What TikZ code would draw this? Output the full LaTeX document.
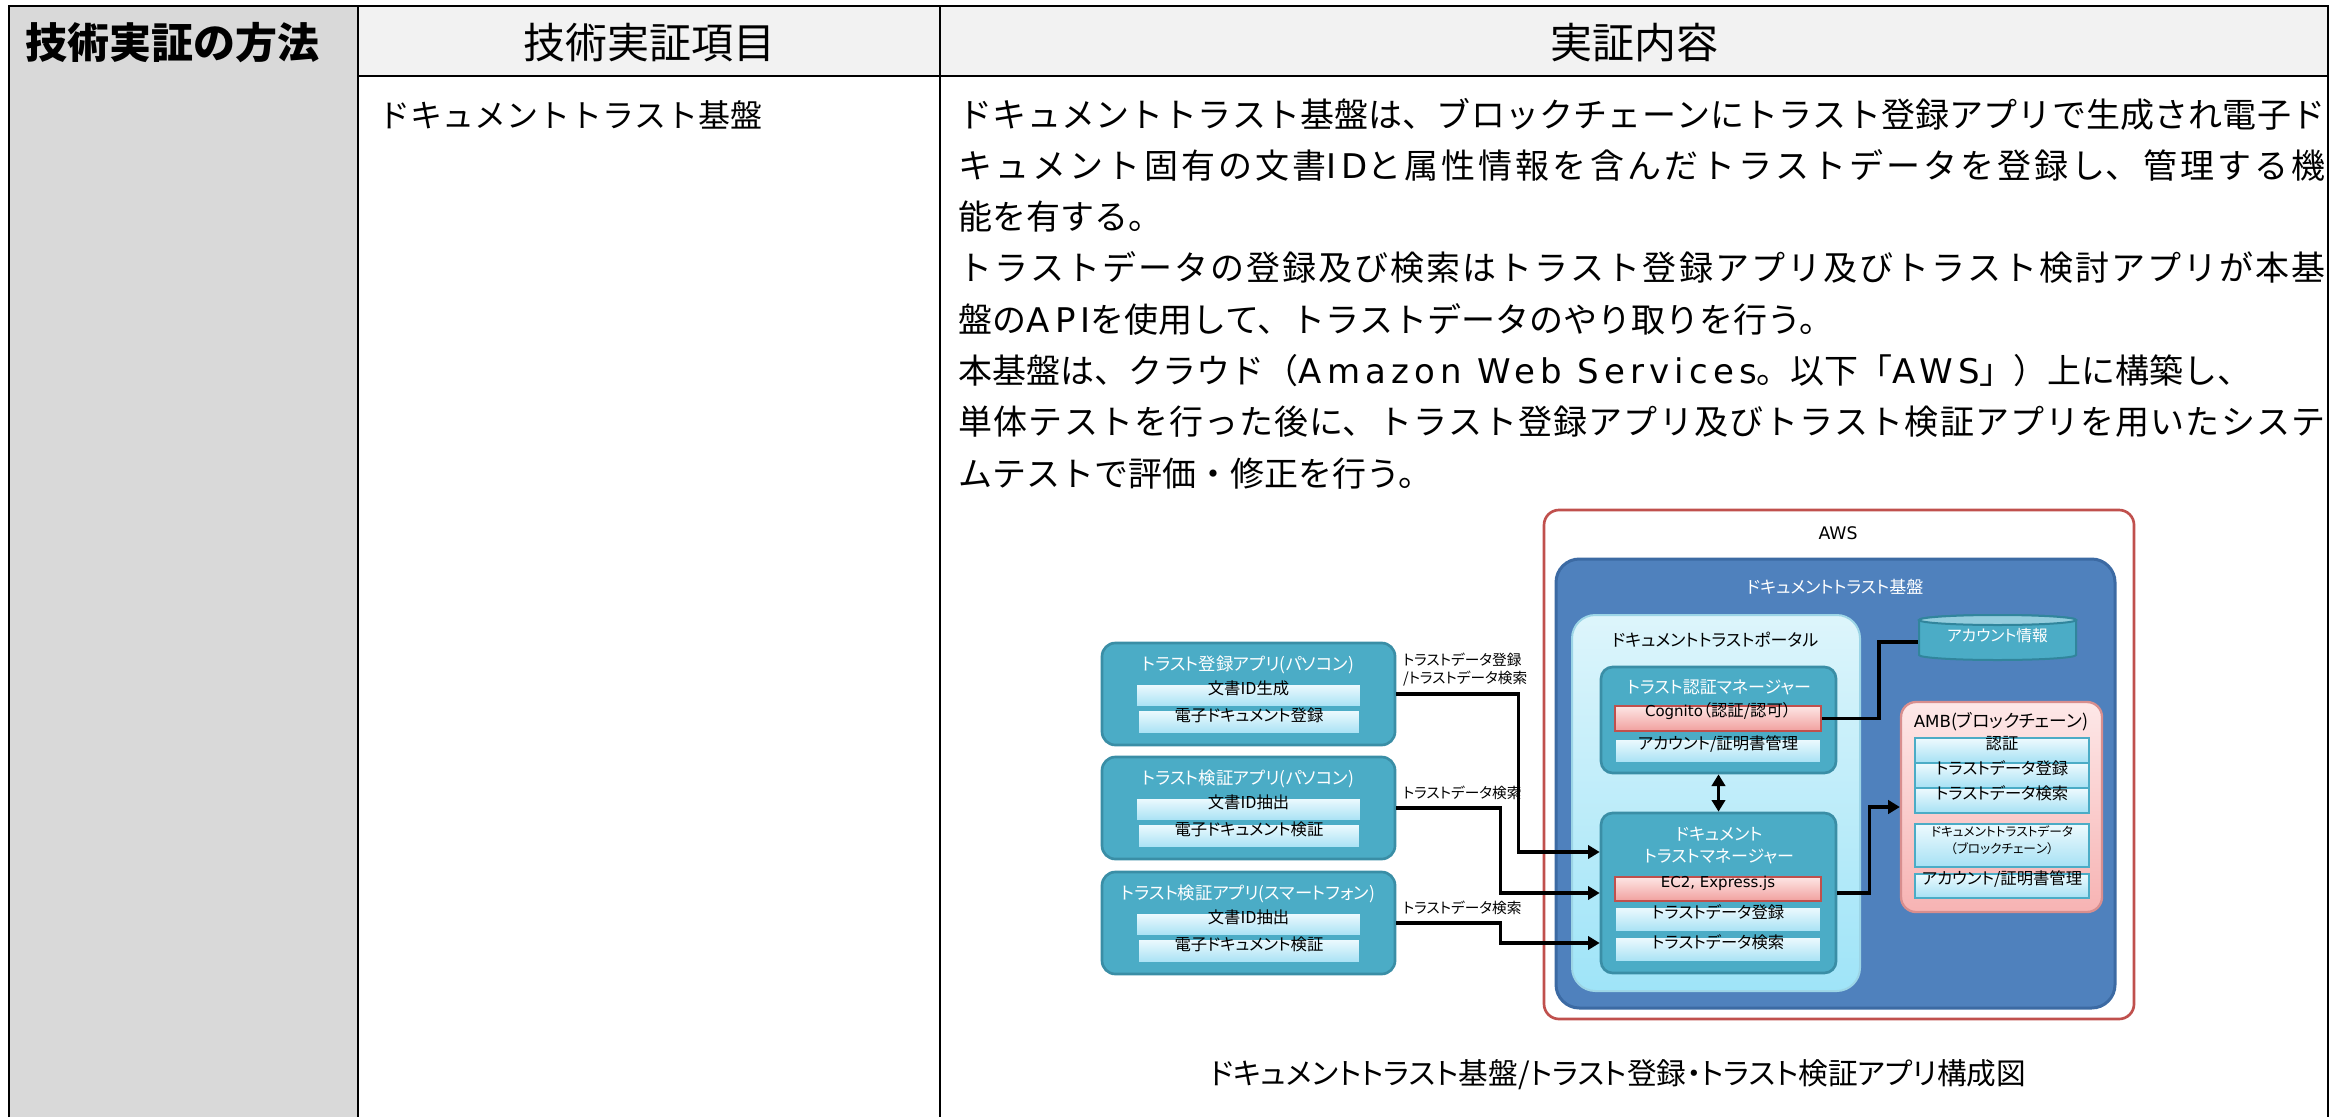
\documentclass[tikz,border=0pt]{standalone}
\usepackage{fontspec}
\setmainfont{Noto Sans CJK JP}
\newfontfamily\uifont[RawFeature=+palt]{Noto Sans CJK JP}
\newfontfamily\latinwide[LetterSpace=15]{DejaVu Sans}
\newfontfamily\latinui{DejaVu Sans}
\usetikzlibrary{arrows.meta,fit}
\definecolor{hdgray}{HTML}{F2F2F2}
\definecolor{colgray}{HTML}{D9D9D9}
\definecolor{awsred}{HTML}{C0504D}
\definecolor{awsblue}{HTML}{4F81BD}
\definecolor{awsblueline}{HTML}{3C6AA3}
\definecolor{portaltop}{HTML}{DDF5FB}
\definecolor{portalbot}{HTML}{9FE4F8}
\definecolor{portalline}{HTML}{9CD5E6}
\definecolor{mgrteal}{HTML}{4BACC6}
\definecolor{mgrline}{HTML}{3A8EA6}
\definecolor{subtop}{HTML}{EEFAFE}
\definecolor{subbot}{HTML}{A6E1F4}
\definecolor{redtop}{HTML}{FDE6E5}
\definecolor{redbot}{HTML}{F1A09E}
\definecolor{ambtop}{HTML}{FDE8E8}
\definecolor{ambbot}{HTML}{F7B3B3}
\definecolor{ambline}{HTML}{D88E8E}
\definecolor{dbtop}{HTML}{93CDDD}
\definecolor{dbline}{HTML}{31859C}
\begin{document}
\begin{tikzpicture}[x=.3pt,y=-.3pt,every node/.style={inner sep=0pt},
	bodyline/.style={anchor=base west,font=\fontsize{10.2}{12}\selectfont},
	boxtitle/.style={text=white,align=center,font=\uifont\fontsize{5.1}{6.6}\selectfont},
	mgrbox/.style={fill=mgrteal,draw=mgrline,line width=.8pt,rounded corners=3.5pt},
	subbox/.style={top color=subtop,bottom color=subbot,draw=mgrteal,line width=.5pt,font=\uifont\fontsize{4.9}{5.5}\selectfont},
	redbox/.style={top color=redtop,bottom color=redbot,draw=awsred,line width=.6pt,font=\uifont\fontsize{4.9}{5.5}\selectfont},
	flowlabel/.style={pos=0,anchor=south west,xshift=1.5pt,yshift=2pt,align=left,font=\uifont\fontsize{4.4}{5.4}\selectfont},
	conn/.style={line width=1pt,-{Triangle[length=3.5pt,width=4pt]}}]
	\useasboundingbox (0,0) rectangle (2341,1117);
	\fill[colgray] (9,6) rectangle (358,1117);
	\fill[hdgray] (358,6) rectangle (2328,76);
	\draw[line width=.7pt] (9,1117) -- (9,6) -- (2328,6) -- (2328,1117) (358,6) -- (358,1117) (940,6) -- (940,1117) (358,76) -- (2328,76);
	\node[anchor=west,font=\fontsize{12.6}{14}\selectfont\bfseries] (method) at (25,43) {技術実証の方法};
	\node[font=\fontsize{12.6}{14}\selectfont] (itemhd) at (649,43) {技術実証項目};
	\node[font=\fontsize{12.6}{14}\selectfont] (contenthd) at (1634,43) {実証内容};
	\node[bodyline,font=\fontsize{9.6}{12}\selectfont] (item) at (378,127) {ドキュメントトラスト基盤};
	\foreach \j/\t [count=\i] in {1/ドキュメントトラスト基盤は、ブロックチェーンにトラスト登録アプリで生成され電子ド,
		1/キュメント固有の文書{\latinwide ID}と属性情報を含んだトラストデータを登録し、管理する機,
		0/能を有する。,
		1/トラストデータの登録及び検索はトラスト登録アプリ及びトラスト検討アプリが本基,
		0/盤の{\latinwide API}を使用して、トラストデータのやり取りを行う。,
		0/本基盤は、クラウド（{\latinwide Amazon Web Services}。以下「{\latinwide AWS}」）上に構築し、,
		1/単体テストを行った後に、トラスト登録アプリ及びトラスト検証アプリを用いたシステ,
		0/ムテストで評価・修正を行う。}
		\node[bodyline] (line\i) at (958,{127+51.3*(\i-1)}) {\ifnum\j=1 \parbox[b]{410pt}{\XeTeXlinebreaklocale "ja"\XeTeXlinebreakskip=0pt plus 4pt\parfillskip=0pt \t}\else\t\fi};
	\node[fit={(1544,510)(2134,1019)},fill=white,draw=awsred,line width=.8pt,rounded corners=4.5pt] (aws) {};
	\node[font=\latinui\fontsize{5.2}{6}\selectfont] (awst) at (1838,533) {AWS};
	\node[fit={(1556,559)(2115,1008)},fill=awsblue,draw=awsblueline,line width=.9pt,rounded corners=7pt] (base) {};
	\node[boxtitle] (baset) at (1835,587) {ドキュメントトラスト基盤};
	\node[fit={(1572,615)(1860,991)},top color=portaltop,bottom color=portalbot,draw=portalline,line width=.6pt,rounded corners=7pt] (portal) {};
	\node[boxtitle,text=black] (portalt) at (1715,640) {ドキュメントトラストポータル};
	\node[mgrbox,fit={(1601,667)(1836,773)}] (authmgr) {};
	\node[boxtitle] (authmgrt) at (1719,687) {トラスト認証マネージャー};
	\node[redbox,fit={(1615,706)(1821,731)}] (cognito) {{\latinui\fontsize{4.5}{5}\selectfont Cognito}（認証/認可）};
	\node[subbox,fit={(1615,739)(1821,763)}] (authcert) {アカウント/証明書管理};
	\node[mgrbox,fit={(1601,813)(1836,973)}] (trustmgr) {};
	\node[boxtitle] (trustmgrt) at (1719,846) {ドキュメント\\トラストマネージャー};
	\node[redbox,fit={(1615,877)(1821,901)},font=\latinui\fontsize{4.5}{5}\selectfont] (ec2) {EC2, Express.js};
	\node[subbox,fit={(1615,907)(1821,932)}] (mgrreg) {トラストデータ登録};
	\node[subbox,fit={(1615,937)(1821,962)}] (mgrsea) {トラストデータ検索};
	\filldraw[fill=mgrteal,draw=dbline,line width=.6pt] (1919,620) -- (1919,655) arc[start angle=180,end angle=360,x radius=23.55pt,y radius=1.5pt] -- (2076,620) arc[start angle=0,end angle=180,x radius=23.55pt,y radius=1.5pt] -- cycle;
	\filldraw[fill=dbtop,draw=dbline,line width=.6pt] (1997.5,620) ellipse[x radius=23.55pt,y radius=1.5pt];
	\node[fit={(1919,622)(2076,662)},text=white,font=\uifont\fontsize{4.7}{5}\selectfont] (acctdb) {アカウント情報};
	\node[fit={(1901,702)(2102,912)},top color=ambtop,bottom color=ambbot,draw=ambline,line width=.7pt,rounded corners=4.5pt] (amb) {};
	\node[font=\uifont\fontsize{5.3}{6}\selectfont] (ambt) at (2001,722) {{\latinui\fontsize{5}{6}\selectfont AMB}(ブロックチェーン)};
	\foreach \n/\a/\b/\t in {ambauth/738/763/認証,ambreg/763/788/トラストデータ登録,ambsea/788/813/トラストデータ検索}
		\node[subbox,fit={(1915,\a)(2089,\b)}] (\n) {\t};
	\node[subbox,fit={(1915,824)(2089,867)},align=center,font=\uifont\fontsize{3.8}{5.1}\selectfont] (ambdata) {ドキュメントトラストデータ\\（ブロックチェーン）};
	\node[subbox,fit={(1915,874)(2089,898)}] (ambcert) {アカウント/証明書管理};
	\foreach \app/\y/\ttl/\ida/\idb in {regapp/643/トラスト登録アプリ(パソコン)/文書ID生成/電子ドキュメント登録,pcapp/757/トラスト検証アプリ(パソコン)/文書ID抽出/電子ドキュメント検証,spapp/872/トラスト検証アプリ(スマートフォン)/文書ID抽出/電子ドキュメント検証}{
		\node[mgrbox,rounded corners=4pt,fit={(1102,\y)(1395,\y+102)}] (\app) {};
		\node[boxtitle,font=\uifont\fontsize{5.2}{6}\selectfont] (\app-t) at (1248,\y+22) {\ttl};
		\node[subbox,fit={(1136,\y+41)(1361,\y+64)}] (\app-a) {\ida};
		\node[subbox,fit={(1138,\y+67)(1360,\y+91)}] (\app-b) {\idb};
	}
	\path (trustmgr.west) ++(0,-41) coordinate (in1) (trustmgr.west) coordinate (in2) ++(0,50) coordinate (in3);
	\draw[conn] (regapp.east) -- ++(122,0) node[flowlabel] {トラストデータ登録\\/トラストデータ検索} |- (in1);
	\draw[conn] (pcapp.east) -- ++(104,0) node[flowlabel] {トラストデータ検索} |- (in2);
	\draw[conn] (spapp.east) -- ++(104,0) node[flowlabel] {トラストデータ検索} |- (in3);
	\draw[conn,{Triangle[length=3.5pt,width=4pt]}-{Triangle[length=3.5pt,width=4pt]}] (authmgr.south) -- (trustmgr.north);
	\draw[line width=1pt] (cognito.east) -- ++(57,0) |- (acctdb.west);
	\draw[conn] (trustmgr.east) -- ++(32,0) |- (amb.west);
	\node[font=\uifont\fontsize{8.9}{10}\selectfont] (caption) at (1618,1075) {ドキュメントトラスト基盤/トラスト登録・トラスト検証アプリ構成図};
\end{tikzpicture}
\end{document}
